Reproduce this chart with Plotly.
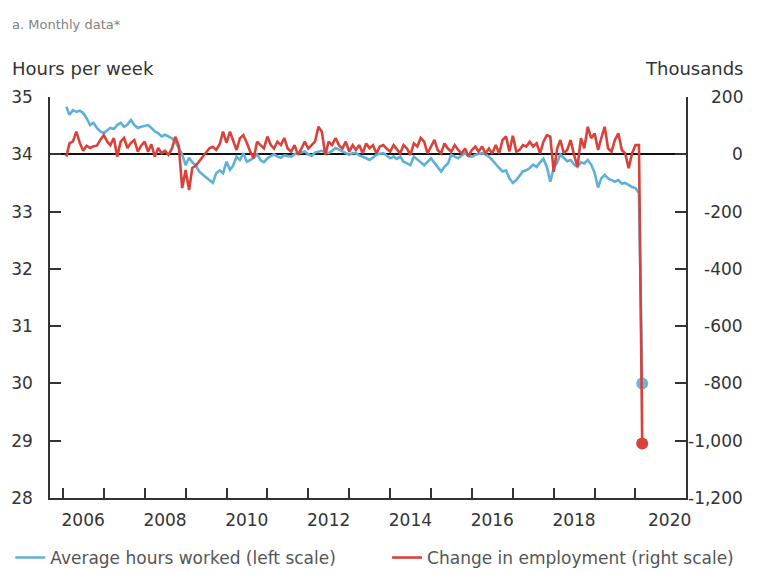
import pandas as pd
import plotly.graph_objects as go

# Monthly observations, Feb 2006 - Feb 2020
months = pd.date_range("2006-02-01", "2020-02-01", freq="MS")

hours_by_year = {
    2006: [34.83, 34.69, 34.77, 34.74, 34.76, 34.72, 34.63, 34.51, 34.55, 34.46, 34.40],
    2007: [34.37, 34.42, 34.46, 34.44, 34.51, 34.55, 34.48, 34.52, 34.60, 34.51, 34.46, 34.48],
    2008: [34.50, 34.51, 34.46, 34.40, 34.37, 34.31, 34.34, 34.31, 34.28, 34.22, 34.11, 34.00],
    2009: [33.81, 33.94, 33.86, 33.81, 33.70, 33.64, 33.60, 33.55, 33.50, 33.67, 33.72, 33.67],
    2010: [33.87, 33.73, 33.80, 33.96, 33.90, 34.02, 33.87, 33.90, 33.94, 34.00, 33.90, 33.86],
    2011: [33.93, 33.97, 34.00, 33.96, 33.94, 33.98, 33.97, 33.96, 34.00, 34.02, 34.04, 34.05],
    2012: [34.00, 33.97, 34.03, 34.05, 34.06, 34.04, 34.02, 34.06, 34.11, 34.08, 34.05, 34.03],
    2013: [33.99, 34.02, 34.02, 33.98, 33.96, 33.93, 33.90, 33.95, 33.99, 34.01, 34.02, 33.98],
    2014: [33.93, 33.96, 33.92, 33.96, 33.87, 33.84, 33.81, 33.96, 33.90, 33.86, 33.81, 33.87],
    2015: [33.93, 33.85, 33.78, 33.70, 33.78, 33.84, 33.99, 33.96, 33.93, 33.98, 34.02, 33.97],
    2016: [33.96, 33.99, 34.00, 34.02, 34.00, 33.96, 33.90, 33.82, 33.76, 33.70, 33.72, 33.58],
    2017: [33.50, 33.55, 33.62, 33.70, 33.72, 33.76, 33.82, 33.78, 33.86, 33.92, 33.78, 33.52],
    2018: [33.76, 33.86, 34.00, 33.93, 33.88, 33.90, 33.82, 33.78, 33.86, 33.84, 33.90, 33.82],
    2019: [33.68, 33.42, 33.58, 33.64, 33.58, 33.55, 33.52, 33.55, 33.49, 33.50, 33.46, 33.43],
    2020: [33.41, 33.32],
}

jobs_by_year = {
    2006: [-8, 38, 45, 79, 40, 12, 30, 22, 28, 30, 50],
    2007: [67, 44, 32, 57, -8, 44, 57, 22, 40, 50, 9, 30],
    2008: [44, 9, 35, -8, 22, 4, 12, -2, 20, 61, 30, -118],
    2009: [-55, -125, -48, -40, -26, -10, 5, 21, 26, 15, 35, 79],
    2010: [40, 79, 48, 15, 56, 67, 40, 9, -14, 44, 32, 21],
    2011: [62, 32, 20, 44, 32, 57, 20, 9, 32, -2, 20, 44],
    2012: [20, 32, 44, 96, 79, -2, 44, 32, 57, 32, 20, 44],
    2013: [9, 32, 15, 32, 3, 38, 21, 32, 3, 27, 32, 20],
    2014: [9, 32, 20, 3, 32, 20, -2, 38, 27, 57, 44, 3],
    2015: [27, 50, 15, 3, 38, 20, 9, 32, 15, 3, 20, -8],
    2016: [15, 27, 9, 27, 3, 20, 3, 32, 3, 50, 62, 10],
    2017: [65, 9, 15, 32, 27, 44, 27, 38, 3, 44, 67, 62],
    2018: [-61, 21, 50, 3, 15, 50, -2, -43, 56, 21, 96, 56],
    2019: [73, 15, 56, 96, 21, 9, 50, 73, 15, 3, -49, 3],
    2020: [32, 32],
}

# Latest reading (March 2020)
latest_month = pd.Timestamp("2020-03-01")
latest_hours = 30.0
latest_jobs = -1010

avg_hours = [v for y in sorted(hours_by_year) for v in hours_by_year[y]]
jobs_change = [v for y in sorted(jobs_by_year) for v in jobs_by_year[y]]

x_line = list(months) + [latest_month]
hours_line = avg_hours + [latest_hours]
jobs_line = jobs_change + [latest_jobs]

year_labels = ["2006", "2008", "2010", "2012", "2014", "2016", "2018", "2020"]
year_label_dates = ["2006-07-01", "2008-07-01", "2010-07-01", "2012-07-01",
                    "2014-07-01", "2016-07-01", "2018-07-01", "2020-11-01"]
year_tick_dates = [f"{y}-01-01" for y in range(2006, 2021)]

left_ticks = [28, 29, 30, 31, 32, 33, 34, 35]
right_ticks = [200, 0, -200, -400, -600, -800, -1000, -1200]

BLUE = "#5fb0d9"
RED = "#d8423a"
INK = "#333333"
FONT = "DejaVu Sans, Liberation Sans, Arial, sans-serif"

fig = go.Figure()

fig.add_trace(go.Scatter(
    x=x_line, y=hours_line, mode="lines", name="Average hours worked (left scale)",
    line=dict(color=BLUE, width=2.6), yaxis="y", legend="legend",
))
fig.add_trace(go.Scatter(
    x=x_line, y=jobs_line, mode="lines", name="Change in employment (right scale)",
    line=dict(color=RED, width=2.6), yaxis="y2", legend="legend2",
))
fig.add_trace(go.Scatter(
    x=[latest_month], y=[latest_hours], mode="markers", showlegend=False,
    marker=dict(color="#6cb5de", size=12), yaxis="y",
))
fig.add_trace(go.Scatter(
    x=[latest_month], y=[latest_jobs], mode="markers", showlegend=False,
    marker=dict(color=RED, size=12), yaxis="y2",
))

annotations = [
    dict(text="a. Monthly data*", x=-0.0629, y=1.1796, xref="paper", yref="paper",
         xanchor="left", yanchor="middle", showarrow=False,
         font=dict(size=13, color="#808080", family=FONT)),
    dict(text="Hours per week", x=-0.0629, y=1.0723, xref="paper", yref="paper",
         xanchor="left", yanchor="middle", showarrow=False,
         font=dict(size=18, color=INK, family=FONT)),
    dict(text="Thousands", x=1.0928, y=1.0723, xref="paper", yref="paper",
         xanchor="right", yanchor="middle", showarrow=False,
         font=dict(size=18, color=INK, family=FONT)),
]
for v in right_ticks:
    annotations.append(dict(
        text=f"{v:,}", x=1.0928, y=v, xref="paper", yref="y2",
        xanchor="right", yanchor="middle", showarrow=False,
        font=dict(size=17, color=INK, family=FONT)))

legend_style = dict(orientation="h", y=-0.1496, xanchor="left", yanchor="middle",
                    font=dict(size=17, color="#555555", family=FONT),
                    bgcolor="rgba(0,0,0,0)", borderwidth=0)

fig.update_layout(
    width=757, height=572,
    margin=dict(l=50, r=71, t=97, b=74, autoexpand=False),
    paper_bgcolor="white", plot_bgcolor="white",
    font=dict(family=FONT, color=INK, size=17),
    showlegend=True,
    legend=dict(x=-0.0625, **legend_style),
    legend2=dict(x=0.53, **legend_style),
    annotations=annotations,
    xaxis=dict(
        type="date", range=["2005-09-08", "2021-03-27"],
        showgrid=False, zeroline=False,
        showline=True, linecolor=INK, linewidth=1.5,
        tickmode="array", tickvals=year_label_dates, ticktext=year_labels,
        ticks="", ticklabelstandoff=6,
        tickfont=dict(size=17, color=INK),
        minor=dict(tickmode="array", tickvals=year_tick_dates, ticks="inside",
                   ticklen=10, tickwidth=1.5, tickcolor=INK, showgrid=False),
    ),
    yaxis=dict(
        range=[28, 35], tickvals=left_ticks, showgrid=False, zeroline=False,
        showline=True, linecolor=INK, linewidth=1.5,
        ticks="inside", ticklen=11, tickwidth=1.5, tickcolor=INK,
        ticklabelstandoff=12, tickfont=dict(size=17, color=INK),
    ),
    yaxis2=dict(
        range=[-1200, 200], tickvals=right_ticks, overlaying="y", side="right",
        showgrid=False, showticklabels=False,
        zeroline=True, zerolinecolor="#111111", zerolinewidth=1.5,
        showline=True, linecolor=INK, linewidth=1.5,
        ticks="inside", ticklen=11, tickwidth=1.5, tickcolor=INK,
    ),
)

fig.write_html("out.html")
